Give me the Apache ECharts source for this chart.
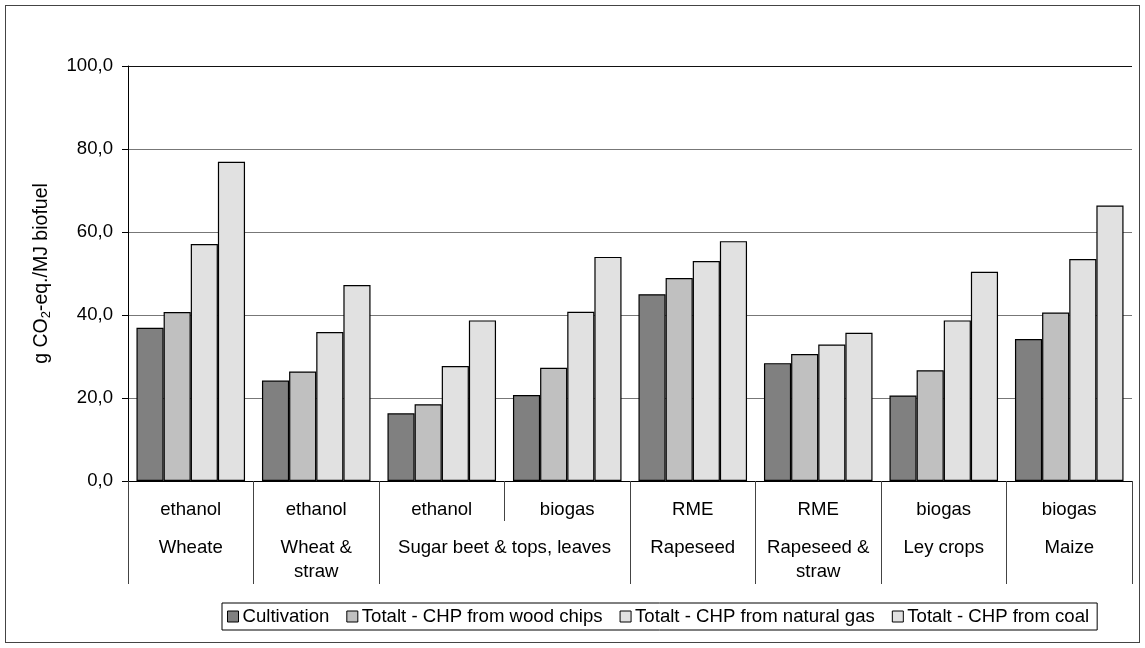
<!DOCTYPE html>
<html>
<head>
<meta charset="utf-8">
<title>GHG emissions per MJ biofuel</title>
<script src="https://cdn.jsdelivr.net/npm/echarts@6/dist/echarts.min.js"></script>
<style>
  html, body { margin: 0; padding: 0; background: #fff; }
  #wrap { position: relative; width: 1145px; height: 648px; }
  #chart { width: 1145px; height: 648px; }
  #frame {
    position: absolute; left: 5px; top: 5px; width: 1133px; height: 636px;
    border: 1px solid #444; pointer-events: none;
  }
</style>
</head>
<body>
<div id="wrap">
  <div id="chart"></div>
  <div id="frame"></div>
</div>
<script>
// fuel per bar group (first row under the axis)
const fuels = ['ethanol', 'ethanol', 'ethanol', 'biogas', 'RME', 'RME', 'biogas', 'biogas']
// crop groups (second row) and how many bar groups each one spans
const crops = ['Wheate', 'Wheat &\nstraw', 'Sugar beet & tops, leaves', 'Rapeseed', 'Rapeseed &\nstraw', 'Ley crops', 'Maize']
const cropSpans = [1, 1, 2, 1, 1, 1, 1]

const seriesNames = [
  'Cultivation',
  'Totalt - CHP from wood chips',
  'Totalt - CHP from natural gas',
  'Totalt - CHP from coal'
]
const cultivation = [36.9, 24.2, 16.3, 20.7, 45.0, 28.4, 20.6, 34.2]
const woodChips   = [40.7, 26.4, 18.5, 27.3, 48.9, 30.6, 26.7, 40.6]
const naturalGas  = [57.1, 35.9, 27.7, 40.8, 53.0, 32.9, 38.7, 53.5]
const coal        = [76.9, 47.2, 38.7, 54.0, 57.8, 35.7, 50.4, 66.4]

const yTicks = [0, 20, 40, 60, 80, 100]
const colors = ['#808080', '#c0c0c0', '#e1e1e1', '#e1e1e1']

// boundaries and centres of the crop groups, in bar-group units
const cropEdges = [0]
cropSpans.forEach(s => cropEdges.push(cropEdges[cropEdges.length - 1] + s))
const cropCentres = cropSpans.map((s, i) => cropEdges[i] + s / 2)

const font = "'Liberation Sans', Arial, sans-serif"
const fs = 18.6
const chart = echarts.init(document.getElementById('chart'))

const option = {
  animation: false,
  textStyle: { fontFamily: font },
  grid: { left: 128, right: 13, top: 66, bottom: 167 },
  legend: {
    left: 222,
    top: 603,
    padding: [4, 8, 4, 5],
    itemWidth: 11,
    itemHeight: 11,
    itemGap: 17,
    borderColor: '#000',
    borderWidth: 1,
    icon: 'rect',
    itemStyle: { borderColor: '#000', borderWidth: 1 },
    textStyle: { fontFamily: font, fontSize: fs, color: '#000', padding: [0, 0, 0, -1] },
    data: seriesNames
  },
  xAxis: [
    {
      type: 'category',
      data: fuels,
      axisLine: { show: true, lineStyle: { color: '#000', width: 1 } },
      axisTick: { show: true, length: 40, interval: 0, alignWithLabel: false, lineStyle: { color: '#444' } },
      axisLabel: { interval: 0, margin: 19, fontSize: fs, color: '#000', fontFamily: font }
    },
    {
      type: 'value',
      position: 'bottom',
      offset: 40,
      min: 0,
      max: fuels.length,
      axisLine: { show: false },
      splitLine: { show: false },
      axisTick: {
        show: true,
        customValues: cropEdges,
        length: 63,
        lineStyle: { color: '#444' }
      },
      axisLabel: {
        customValues: cropCentres,
        margin: 15,
        fontSize: fs,
        lineHeight: 24,
        color: '#000',
        fontFamily: font,
        formatter: v => crops[cropCentres.indexOf(v)]
      }
    }
  ],
  yAxis: {
    type: 'value',
    min: yTicks[0],
    max: yTicks[yTicks.length - 1],
    interval: 20,
    name: '{a|g CO}{s|2}{a|-eq./MJ biofuel}',
    nameLocation: 'middle',
    nameGap: 75,
    nameRotate: 90,
    nameTextStyle: {
      rich: {
        a: { fontSize: 19.5, fontFamily: font, color: '#000', lineHeight: 22 },
        s: { fontSize: 13, fontFamily: font, color: '#000', lineHeight: 14, verticalAlign: 'bottom' }
      }
    },
    axisLine: { show: true, lineStyle: { color: '#000' } },
    axisTick: { show: true, length: 6, lineStyle: { color: '#000' } },
    axisLabel: {
      margin: 15,
      fontSize: fs,
      color: '#000',
      fontFamily: font,
      formatter: v => v.toFixed(1).replace('.', ',')
    },
    splitLine: {
      lineStyle: { color: ['#777', '#777', '#777', '#777', '#777', '#111'], width: 1 }
    }
  },
  series: [cultivation, woodChips, naturalGas, coal].map((d, i) => ({
    name: seriesNames[i],
    type: 'bar',
    data: d,
    barGap: '0%',
    barCategoryGap: '13.5%',
    itemStyle: { color: colors[i], borderColor: '#000', borderWidth: 1.2 }
  }))
}

chart.setOption(option)
</script>
</body>
</html>
